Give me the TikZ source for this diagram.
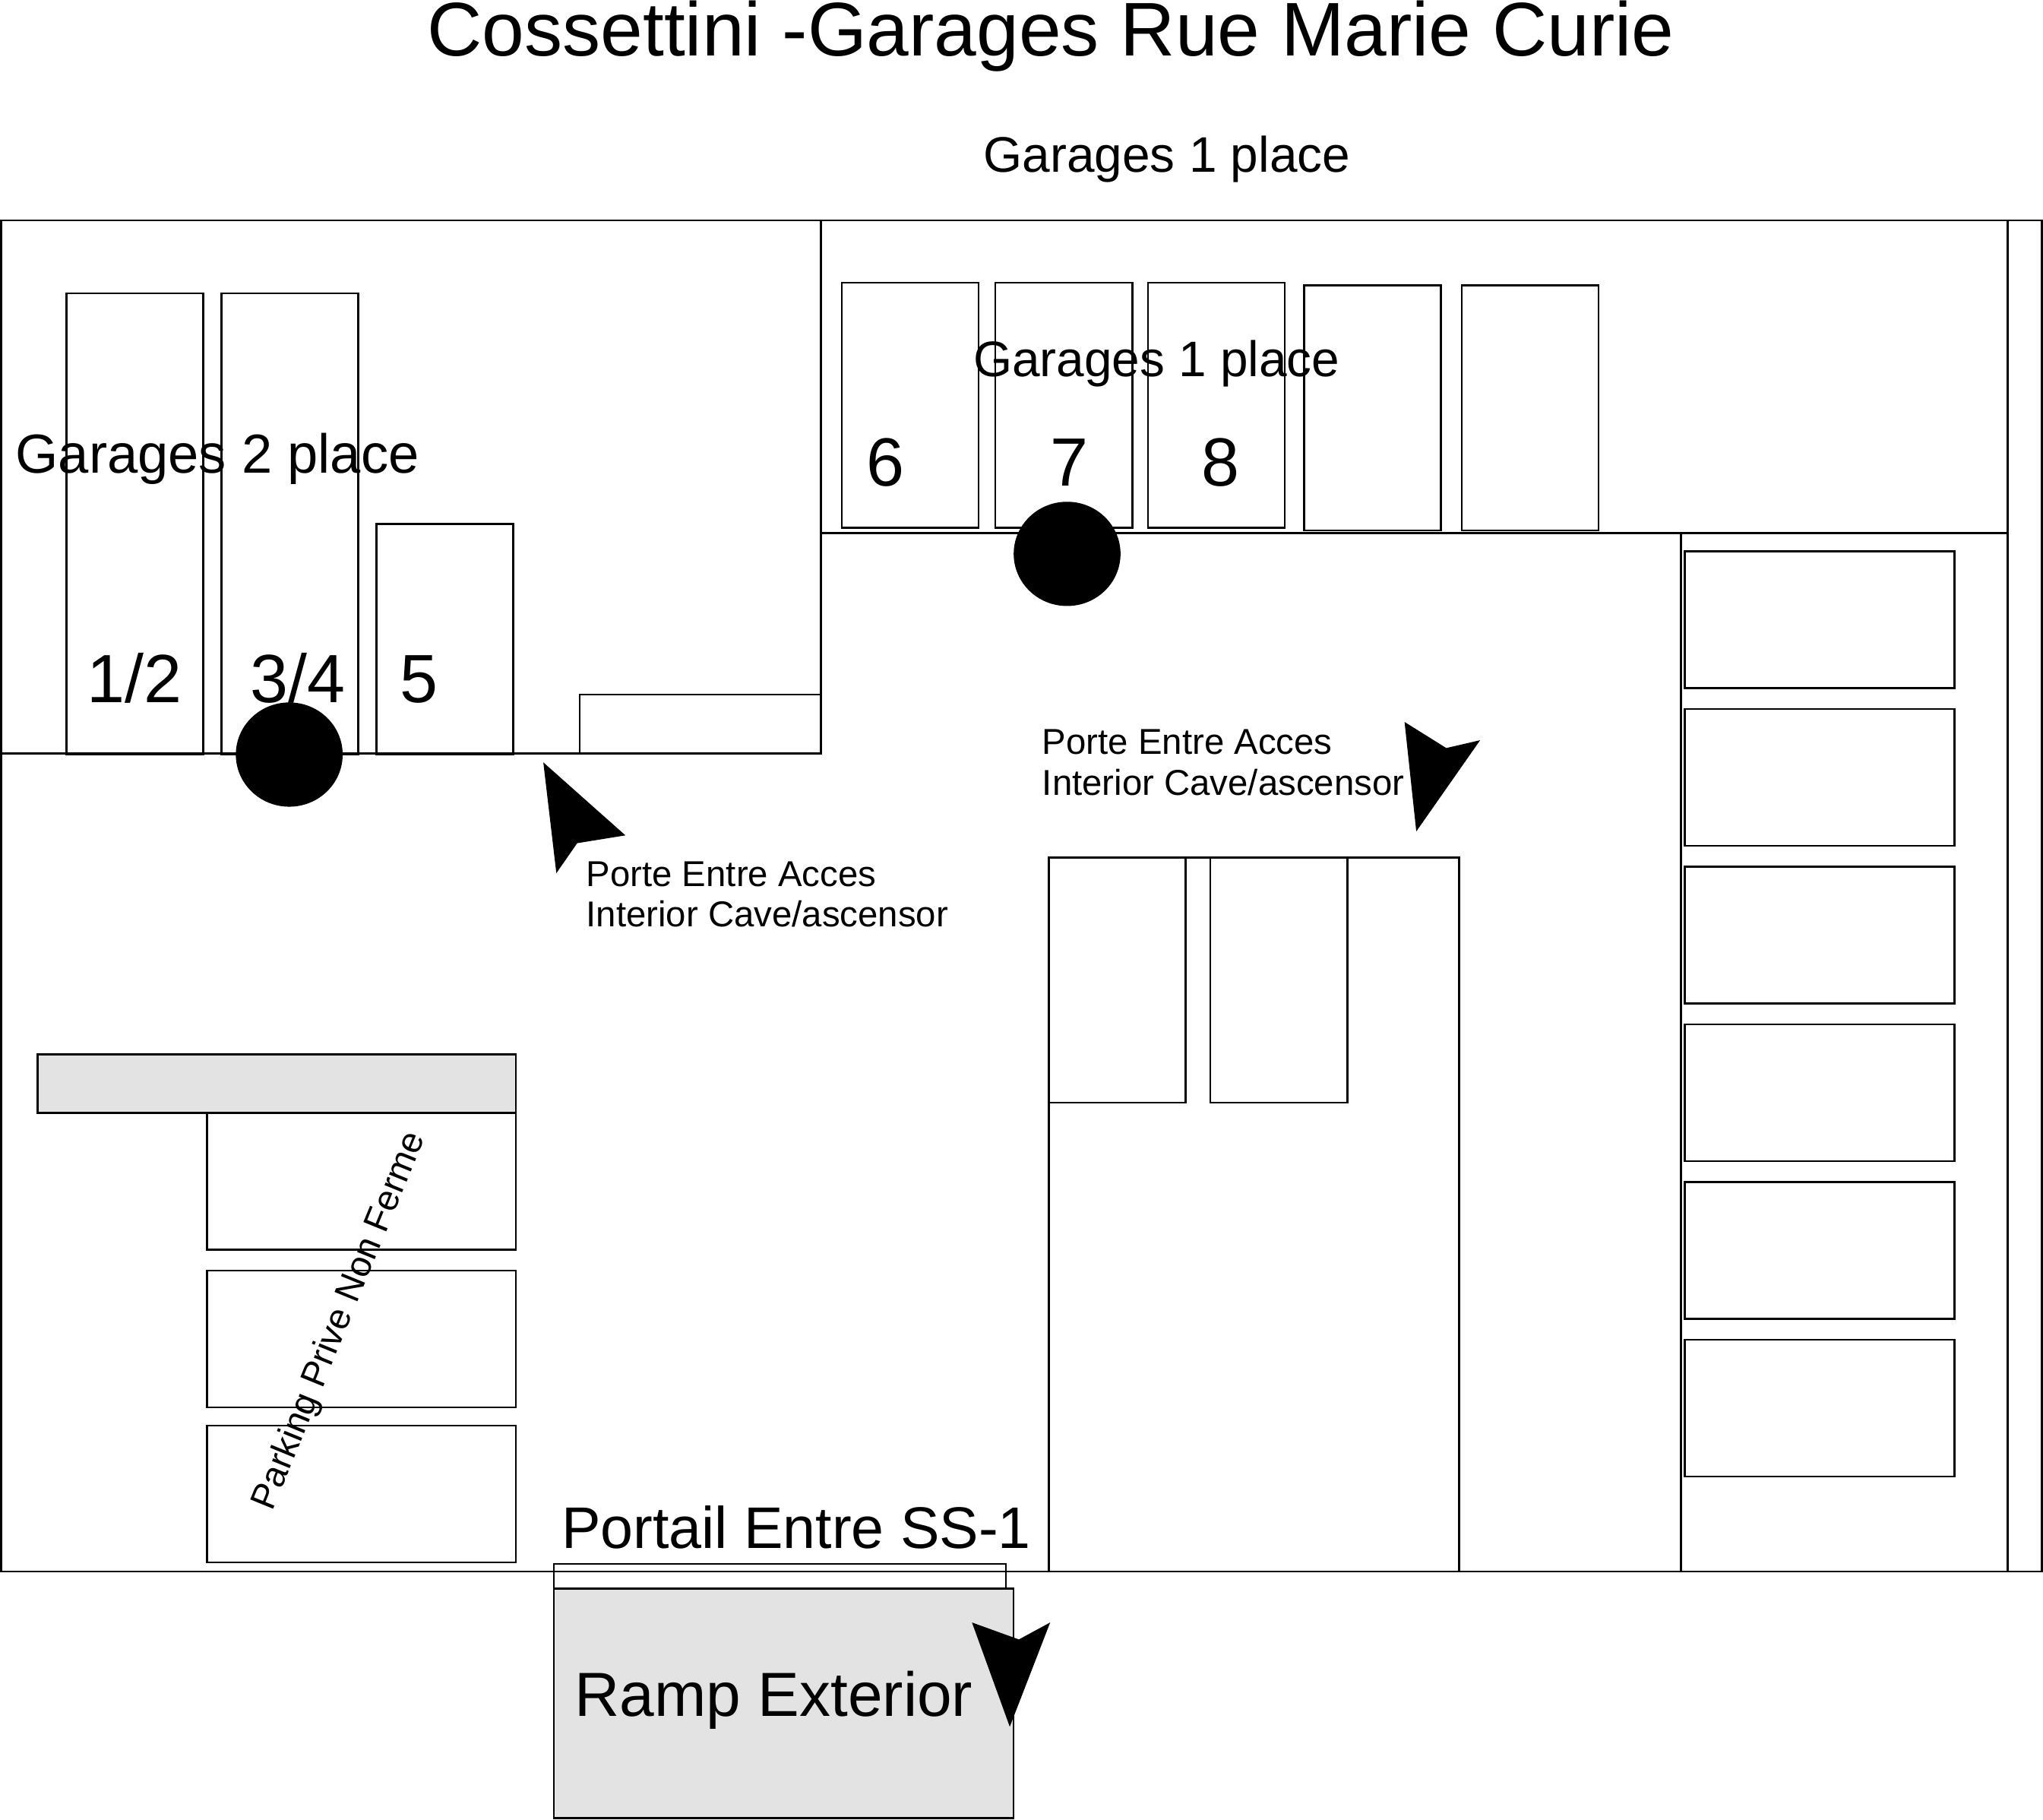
\documentclass[tikz,border=0pt]{standalone}
\usepackage{fontspec}
\setmainfont{Liberation Sans}
\definecolor{rampgray}{RGB}{227,227,227}
\tikzset{
  wall/.style={draw=black, line width=0.42pt},
  label/.style={anchor=base west, inner sep=0pt, outer sep=0pt},
  titletext/.style={label, font=\fontsize{16.6}{18}\selectfont},
  numtext/.style={label, font=\fontsize{14.9}{16}\selectfont},
  bigtext/.style={label, font=\fontsize{12.8}{15}\selectfont},
  midtext/.style={label, font=\fontsize{10.9}{13}\selectfont},
  smalltext/.style={label, font=\fontsize{7.85}{9}\selectfont},
}
\begin{document}
\begin{tikzpicture}[x=0.01cm, y=-0.01cm]
    \useasboundingbox (0,0) rectangle (1568,1396);

    % Outer walls
    \draw[wall] (1,169) rectangle (1567,1206);
    \draw[wall] (1541,169) -- (1541,1206);
    \draw[wall] (630,169) -- (630,578);
    \draw[wall] (1,578) -- (630,578);
    \draw[wall] (630,409) -- (1541,409);
    \draw[wall] (1290,409) -- (1290,1206);

    % Garages 2 place
    \draw[wall] (51,225) rectangle (156,579);
    \draw[wall] (170,225) rectangle (275,579);
    \draw[wall] (289,402) rectangle (394,579);
    \draw[wall] (445,533) rectangle (630,578);

    % Garages 1 place
    \foreach \x in {646,764,881} {
        \draw[wall] (\x,217) rectangle ++(105,188);
    }
    \foreach \x in {1001,1122} {
        \draw[wall] (\x,219) rectangle ++(105,188);
    }

    % Right column
    \foreach \y in {423,544,665,786,907,1028} {
        \draw[wall] (1293,\y) rectangle ++(207,105);
    }

    % Middle block
    \draw[wall] (805,658) rectangle (1120,1206);
    \draw[wall] (805,658) rectangle (910,846);
    \draw[wall] (929,658) rectangle (1034,846);

    % Parking
    \draw[wall, fill=rampgray] (29,809) rectangle (396,854);
    \draw[wall] (159,854) rectangle (396,959);
    \draw[wall] (159,975) rectangle (396,1080);
    \draw[wall] (159,1094) rectangle (396,1199);

    % Portail and ramp
    \draw[wall] (425,1200) rectangle (772,1219);
    \draw[wall, fill=rampgray] (425,1219) rectangle (778,1395);

    % Black dots
    \fill (222,579) ellipse [x radius=41, y radius=40];
    \fill (819,425) ellipse [x radius=41, y radius=40];

    % Black arrows
    \fill (417,585) -- (480,641) -- (443,647) -- (427,670) -- cycle;
    \fill (1078,554) -- (1110,574) -- (1136,568) -- (1087,638) -- cycle;
    \fill (746,1245) -- (782,1258) -- (806,1245) -- (775,1325) -- cycle;

    % Labels
    \node[titletext] (title) at (328,43) {Cossettini -Garages Rue Marie Curie};
    \node[midtext] (top1) at (755,132) {Garages 1 place};
    \node[midtext] (in1) at (747,289) {Garages 1 place};
    \node[midtext, font=\fontsize{12}{14}\selectfont] (in2) at (12,363) {Garages 2 place};
    \node[numtext] (g6) at (665,373) {6};
    \node[numtext] (g7) at (806,373) {7};
    \node[numtext] (g8) at (922,373) {8};
    \node[numtext] (g12) at (67,539) {1/2};
    \node[numtext] (g34) at (192,539) {3/4};
    \node[numtext] (g5) at (307,539) {5};
    \node[smalltext] (doorA) at (450,680) {Porte Entre Acces};
    \node[smalltext] (doorAb) at (450,711) {Interior Cave/ascensor};
    \node[smalltext] (doorB) at (800,579) {Porte Entre Acces};
    \node[smalltext] (doorBb) at (800,610) {Interior Cave/ascensor};
    \node[bigtext] (portail) at (431,1188) {Portail Entre SS-1};
    \node[bigtext, font=\fontsize{13.6}{15}\selectfont] (ramp) at (441,1317) {Ramp Exterior};
    \node[smalltext, rotate=67.8] (parking) at (209,1160) {Parking Prive Non Ferme};
\end{tikzpicture}
\end{document}
